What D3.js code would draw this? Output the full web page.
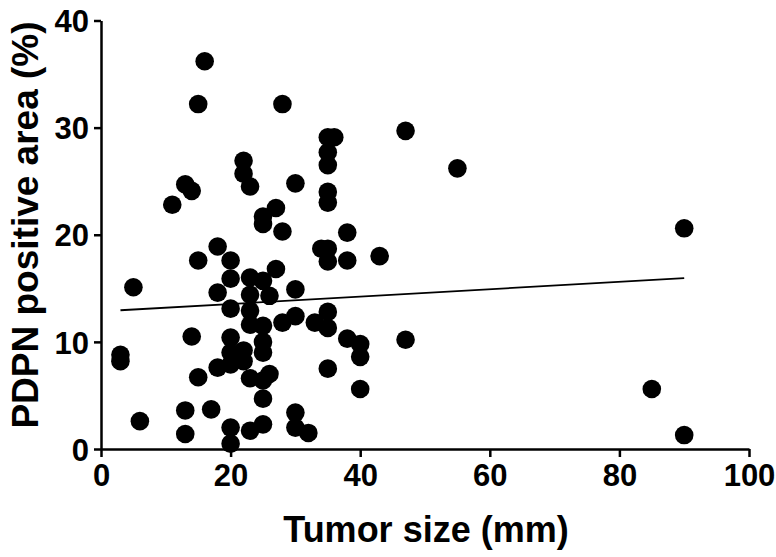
<!DOCTYPE html>
<html><head><meta charset="utf-8">
<script src="https://cdn.jsdelivr.net/npm/d3@7"></script>
<style>body{margin:0;background:#fff}svg{display:block}</style>
</head><body>
<script>
const tumorSize = [16,15,28,35,36,47,35,22,35,55,22,13,30,23,14,35,35,11,27,25,25,90,28,38,18,34,35,15,20,35,38,43,27,20,23,25,5,30,18,23,26,20,23,35,30,23,25,28,33,35,14,20,25,38,47,40,20,22,25,3,3,40,20,22,18,35,26,15,23,25,85,40,25,13,17,30,6,25,20,23,30,32,13,90,20];
const pdpnArea = [36.2,32.2,32.2,29.1,29.1,29.7,27.7,26.9,26.5,26.2,25.7,24.7,24.8,24.5,24.1,24.0,23.0,22.8,22.5,21.7,21.0,20.6,20.3,20.2,18.9,18.7,18.7,17.6,17.6,17.5,17.6,18.0,16.8,15.9,16.0,15.7,15.1,14.9,14.6,14.4,14.3,13.1,12.9,12.8,12.4,11.6,11.5,11.8,11.8,11.3,10.5,10.4,10.0,10.3,10.2,9.8,9.0,9.2,9.0,8.8,8.2,8.6,7.9,8.2,7.6,7.5,7.0,6.7,6.6,6.4,5.6,5.6,4.7,3.6,3.7,3.4,2.6,2.3,2.0,1.7,2.0,1.5,1.4,1.3,0.5];
const fitX = [3, 90];
const fitY = [12.95, 15.95];
const xTicks = [0,20,40,60,80,100];
const yTicks = [0,10,20,30,40];
const xTitle = "Tumor size (mm)";
const yTitle = "PDPN positive area (%)";

const W = 776, H = 557;
const svg = d3.select("body").append("svg").attr("width", W).attr("height", H);
const x = d3.scaleLinear().domain([0,100]).range([101,749]);
const y = d3.scaleLinear().domain([0,40]).range([449,20.5]);
const font = "'Liberation Sans', Arial, sans-serif";

const xAxis = svg.append("g").attr("transform","translate(0,449)")
  .call(d3.axisBottom(x).tickValues(xTicks).tickSize(8).tickSizeOuter(0).tickPadding(7));
const yAxis = svg.append("g").attr("transform","translate(101,0)")
  .call(d3.axisLeft(y).tickValues(yTicks).tickSize(7).tickSizeOuter(0).tickPadding(5));
[xAxis,yAxis].forEach(g=>{
  g.select(".domain").attr("stroke","#000").attr("stroke-width",2.5);
  g.selectAll(".tick line").attr("stroke","#000").attr("stroke-width",2.5);
  g.selectAll(".tick text").attr("fill","#000").style("font-family",font)
    .style("font-weight","bold").style("font-size","31px");
});
xAxis.selectAll(".tick text").attr("dy","0.72em");
yAxis.selectAll(".tick text").attr("dy","0.36em");

svg.append("g").selectAll("circle").data(tumorSize).join("circle")
  .attr("cx",(d)=>x(d)).attr("cy",(d,i)=>y(pdpnArea[i])).attr("r",9.3).attr("fill","#000");

svg.append("line").attr("x1",x(fitX[0])).attr("y1",y(fitY[0]))
  .attr("x2",x(fitX[1])).attr("y2",y(fitY[1])).attr("stroke","#000").attr("stroke-width",1.8);

svg.append("text").attr("x",426).attr("y",542).attr("text-anchor","middle")
  .style("font-family",font).style("font-weight","bold").style("font-size","36px").text(xTitle);
svg.append("text").attr("transform","translate(38,225) rotate(-90)").attr("text-anchor","middle")
  .style("font-family",font).style("font-weight","bold").style("font-size","37px").text(yTitle);
</script>
</body></html>
